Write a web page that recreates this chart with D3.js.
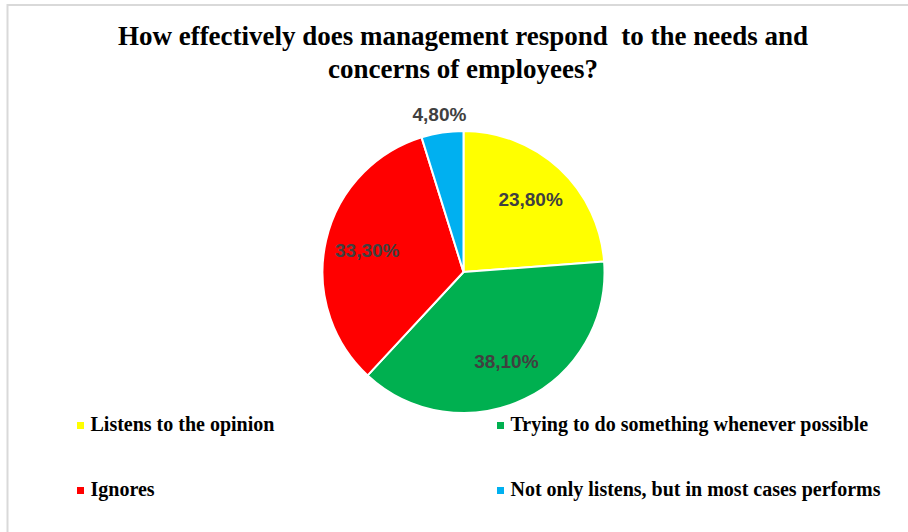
<!DOCTYPE html>
<html>
<head>
<meta charset="utf-8">
<script src="https://cdn.jsdelivr.net/npm/d3@7"></script>
<style>
  html, body { margin: 0; padding: 0; background: #fff; }
  svg { display: block; }
</style>
</head>
<body>
<div id="chart"></div>
<script>
// answers, in the order they go round the pie (clockwise from 12 o'clock)
const categories = [
  'Listens to the opinion',
  'Trying to do something whenever possible',
  'Ignores',
  'Not only listens, but in most cases performs'
]
const shares = [23.8, 38.1, 33.3, 4.8]
const colors = ['#ffff00', '#00b050', '#ff0000', '#00b0f0']
const titleLines = [
  'How effectively does management respond\u00a0 to the needs and',
  'concerns of employees?'
]

const width = 908
const height = 532
const serif = '"Liberation Serif", "Times New Roman", serif'
const sans = '"Liberation Sans", Arial, sans-serif'

const svg = d3.select('#chart')
  .append('svg')
  .attr('width', width)
  .attr('height', height)

// light frame, cut by the right and bottom edges
svg.append('rect')
  .attr('x', 7.5)
  .attr('y', 5)
  .attr('width', width + 20)
  .attr('height', height + 20)
  .attr('fill', 'none')
  .attr('stroke', '#d9d9d9')
  .attr('stroke-width', 2)

// title
svg.append('g')
  .attr('transform', `translate(${width / 2 + 9}, 0)`)
  .selectAll('text')
  .data(titleLines)
  .join('text')
  .attr('y', (d, i) => 45 + i * 33)
  .attr('text-anchor', 'middle')
  .attr('font-family', serif)
  .attr('font-weight', 'bold')
  .attr('font-size', 27)
  .attr('fill', '#000')
  .text(d => d)

// pie
const cx = 463.5
const cy = 272
const radius = 141

const data = categories.map((name, i) => ({ name, value: shares[i], color: colors[i] }))
const pie = d3.pie().sort(null).value(d => d.value)
const arcs = pie(data)

const arc = d3.arc().innerRadius(0).outerRadius(radius)
const inner = d3.arc().innerRadius(radius * 0.7).outerRadius(radius * 0.7)
const outer = d3.arc().innerRadius(radius + 19).outerRadius(radius + 19)
const fmt = v => v.toFixed(2).replace('.', ',') + '%'

const g = svg.append('g').attr('transform', `translate(${cx}, ${cy})`)

g.selectAll('path')
  .data(arcs)
  .join('path')
  .attr('d', arc)
  .attr('fill', d => d.data.color)
  .attr('stroke', '#fff')
  .attr('stroke-width', 2)
  .attr('stroke-linejoin', 'round')

// small slices get their label outside the pie
g.selectAll('text.val')
  .data(arcs)
  .join('text')
  .attr('class', 'val')
  .attr('transform', d => {
    const small = d.endAngle - d.startAngle < 0.4
    const [x, y] = (small ? outer : inner).centroid(d)
    return `translate(${x}, ${y})`
  })
  .attr('dy', '0.36em')
  .attr('text-anchor', 'middle')
  .attr('font-family', sans)
  .attr('font-weight', 'bold')
  .attr('font-size', 19)
  .attr('fill', '#404040')
  .text(d => fmt(d.data.value))

// legend: two columns, two rows
const legendX = d3.scaleOrdinal().domain([0, 1]).range([77, 497])
const legendY = d3.scaleOrdinal().domain([0, 1]).range([422, 487])

const item = svg.append('g')
  .selectAll('g')
  .data(data)
  .join('g')
  .attr('transform', (d, i) => `translate(${legendX(i % 2)}, ${legendY(Math.floor(i / 2))})`)

item.append('rect')
  .attr('width', 7)
  .attr('height', 7)
  .attr('fill', d => d.color)

item.append('text')
  .attr('x', 13.5)
  .attr('y', 8.5)
  .attr('font-family', serif)
  .attr('font-weight', 'bold')
  .attr('font-size', 20)
  .attr('fill', '#000')
  .text(d => d.name)
</script>
</body>
</html>
